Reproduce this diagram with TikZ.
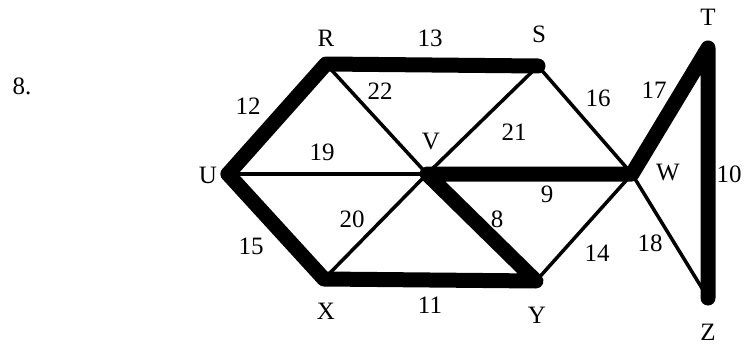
\documentclass[tikz,border=0pt]{standalone}
\usepackage{fontspec}
\setmainfont{Liberation Serif}
\begin{document}
\begin{tikzpicture}[x=1pt,y=-1pt,
  thin edge/.style={line width=3.5pt},
  thick edge/.style={line width=15pt,line cap=round,line join=round},
  lbl/.style={font=\fontsize{25}{25}\selectfont,inner sep=0pt}]
\useasboundingbox (0,0) rectangle (744,345);
\coordinate (U) at (228,174);
\coordinate (R) at (326,64);
\coordinate (S) at (538,66);
\coordinate (V) at (427,174);
\coordinate (W) at (632,174);
\coordinate (X) at (324,279);
\coordinate (Y) at (536,281);
\coordinate (T) at (708,48);
\coordinate (Z) at (708,298);
% thin edges
\draw[thin edge] (R) -- (V);
\draw[thin edge] (S) -- (V);
\draw[thin edge] (S) -- (W);
\draw[thin edge] (U) -- (V);
\draw[thin edge] (X) -- (V);
\draw[thin edge] (Y) -- (W);
\draw[thin edge] (W) -- (Z);
% thick edges
\draw[thick edge] (U) -- (R) -- (S);
\draw[thick edge] (U) -- (X) -- (Y) -- (V) -- (W) -- (T) -- (Z);
% vertex labels
\node[lbl] (lR) at (326,38) {R};
\node[lbl] (lS) at (539,34) {S};
\node[lbl] (lT) at (708,17) {T};
\node[lbl] (lU) at (208,175) {U};
\node[lbl] (lV) at (431,142) {V};
\node[lbl] (lW) at (668,173) {W};
\node[lbl] (lX) at (326,311) {X};
\node[lbl] (lY) at (537,315) {Y};
\node[lbl] (lZ) at (708,332) {Z};
% weights
\node[lbl] (w13) at (430,38) {13};
\node[lbl] (w12) at (248,106) {12};
\node[lbl] (w22) at (380,91) {22};
\node[lbl] (w19) at (322,152) {19};
\node[lbl] (w21) at (514,132) {21};
\node[lbl] (w16) at (598,98) {16};
\node[lbl] (w17) at (654,90) {17};
\node[lbl] (w10) at (729,174) {10};
\node[lbl] (w9) at (547,194) {9};
\node[lbl] (w20) at (352,219) {20};
\node[lbl] (w8) at (497,219) {8};
\node[lbl] (w15) at (251,246) {15};
\node[lbl] (w11) at (430,305) {11};
\node[lbl] (w14) at (597,253) {14};
\node[lbl] (w18) at (650,243) {18};
\node[lbl] (num) at (22,86) {8.};
\end{tikzpicture}
\end{document}
